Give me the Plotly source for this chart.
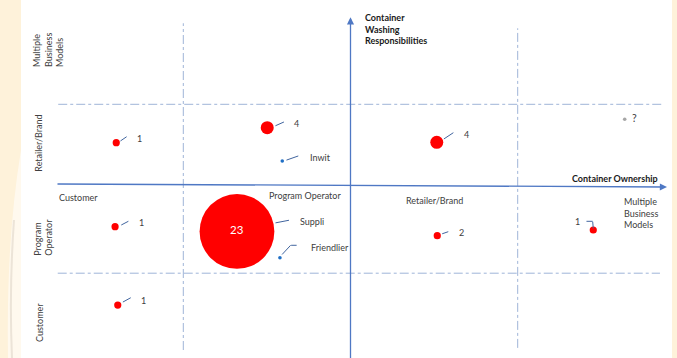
import plotly.graph_objects as go

# ---------------- data ----------------
# Axis scale: x = container ownership, y = container washing responsibility.
# Each unit is one category band: 0-1 Customer, 1-2 Program Operator,
# 2-3 Retailer/Brand, 3-4 Multiple Business Models.
ownership_labels = ["Customer", "Program Operator", "Retailer/Brand", "Multiple<br>Business<br>Models"]
washing_labels = ["Customer", "Program<br>Operator", "Retailer/Brand", "Multiple<br>Business<br>Models"]

count_x = [0.599, 1.502, 2.516, 0.592, 1.321, 2.519, 3.452, 0.608]
count_y = [2.527, 2.712, 2.532, 1.493, 1.434, 1.382, 1.452, 0.528]
count_values = [1, 4, 4, 1, 23, 2, 1, 1]

company_names = ["Inwit", "Friendlier", "?"]
company_x = [1.592, 1.578, 3.640]
company_y = [2.302, 1.111, 2.815]
company_colors = ["#1f6fc5", "#1f6fc5", "#a6a6a6"]

bubble_note = "Suppli"          # label attached to the largest bubble
ownership_dividers = [1, 3]
washing_dividers = [0.92, 3.0]
axis_origin = [2, 2]

# ---------------- layout constants ----------------
W, H = 677, 358
X_RANGE = [-0.0963, 3.9528]
Y_RANGE = [-0.1244, 4.2845]
FONT = "Lato"
FS = 9
TXT = "#404040"
LEADER = "#41659f"
AXIS = "#4f78c4"
DIV = "#9fb4d8"
CREAM = "#fef2da"

def px(x):
    return x / W

def py(y):
    return 1 - y / H

fig = go.Figure()

# bubbles with counts
fig.add_trace(go.Scatter(
    x=count_x, y=count_y, mode="markers",
    marker=dict(size=count_values, sizemode="diameter", sizeref=1 / 3.25, sizemin=3.6,
                color="#ff0000", opacity=1, line=dict(width=0)),
    hoverinfo="skip", showlegend=False))

# company dots
fig.add_trace(go.Scatter(
    x=company_x, y=company_y, mode="markers",
    marker=dict(size=3.6, color=company_colors, opacity=1, line=dict(width=0)),
    hoverinfo="skip", showlegend=False))

annotations = []
shapes = []

# white panel and faint swirl in the left margin
shapes.append(dict(type="rect", xref="paper", yref="paper", x0=px(21), x1=px(672), y0=0, y1=1,
                   fillcolor="white", line=dict(width=0), layer="below"))
shapes.append(dict(type="path", xref="paper", yref="paper", layer="below",
                   path=f"M {px(21)} {py(150)} Q {px(6)} {py(240)} {px(8)} {py(358)} "
                        f"L {px(21)} {py(358)} Z",
                   fillcolor="rgba(255,255,255,0.55)", line=dict(width=0)))
shapes.append(dict(type="path", xref="paper", yref="paper", layer="below",
                   path=f"M {px(14)} {py(220)} Q {px(9)} {py(290)} {px(12)} {py(358)}",
                   line=dict(color="rgba(200,190,175,0.35)", width=2)))

# dividers
shapes.append(dict(type="line", xref="x", yref="y", x0=ownership_dividers[0], x1=ownership_dividers[0],
                   y0=-0.026, y1=3.998, line=dict(color=DIV, width=1, dash="dashdot")))
shapes.append(dict(type="line", xref="x", yref="y", x0=ownership_dividers[1], x1=ownership_dividers[1],
                   y0=0.0, y1=3.936, line=dict(color=DIV, width=1, dash="dashdot")))
shapes.append(dict(type="line", xref="x", yref="y", x0=0.252, x1=3.875,
                   y0=washing_dividers[1], y1=washing_dividers[1], line=dict(color=DIV, width=1, dash="dashdot")))
shapes.append(dict(type="line", xref="x", yref="y", x0=0.249, x1=3.851,
                   y0=washing_dividers[0], y1=washing_dividers[0], line=dict(color=DIV, width=1, dash="dashdot")))

# main axes with arrows
annotations.append(dict(x=3.893, y=axis_origin[1] - 0.0185, ax=0.2386, ay=axis_origin[1] + 0.0185,
                        xref="x", yref="y", axref="x", ayref="y", text="", showarrow=True,
                        arrowhead=2, arrowsize=1.1, arrowwidth=1.3, arrowcolor=AXIS))
annotations.append(dict(x=axis_origin[0], y=4.071, ax=axis_origin[0], ay=-0.2,
                        xref="x", yref="y", axref="x", ayref="y", text="", showarrow=True,
                        arrowhead=2, arrowsize=1.1, arrowwidth=1.3, arrowcolor=AXIS))

# leader line geometry (pixel offsets from the dot): list of segments per point
count_leaders = [
    [((3.7, -1.4), (10.4, -6.0))],
    [((7.7, -1.7), (16.7, -5.7))],
    [((6.6, -3.0), (16.6, -9.6))],
    [((5.7, -1.4), (13.3, -5.4))],
    [((38.0, -8.5), (52.0, -11.2))],
    [((4.4, -1.7), (11.0, -4.0))],
    [((-7.3, -8.7), (-0.6, -8.7)), ((-0.6, -8.7), (0.0, -1.5))],
    [((4.6, -2.7), (13.0, -7.3))],
]
count_label_offsets = [(23, -4.4), (29.4, -3.7), (29.3, -8.3), (26.7, -4.0), (0, -1.5), (24, -3.0), (-15.6, -8.7), (25.6, -5.0)]

company_leaders = [
    [((3.7, -0.7), (16.0, -5.0))],
    [((1.7, -2.7), (10.7, -12.4)), ((10.7, -12.4), (16.7, -12.4))],
    [],
]
company_label_offsets = [(25.4, -3.7), (29.0, -10.4), (5.0, -1.5)]

def leader(x, y, seg):
    (sx, sy), (ex, ey) = seg
    return dict(x=x, y=y, xref="x", yref="y", text="", showarrow=True,
                font=dict(size=1), borderpad=0,
                xshift=ex, yshift=-ey, ax=sx - ex, ay=sy - ey,
                arrowhead=0, arrowwidth=1, arrowcolor=LEADER, standoff=0, startstandoff=0)

for i, (x, y, v) in enumerate(zip(count_x, count_y, count_values)):
    for seg in count_leaders[i]:
        annotations.append(leader(x, y, seg))
    dx, dy = count_label_offsets[i]
    big = v == max(count_values)
    annotations.append(dict(x=x, y=y, xref="x", yref="y", text=str(v), showarrow=False,
                            xshift=dx, yshift=-dy, xanchor="center", yanchor="middle",
                            font=dict(family=FONT, size=11.5 if big else FS,
                                      color="white" if big else TXT)))
    if big:
        annotations.append(dict(x=x, y=y, xref="x", yref="y", text=bubble_note, showarrow=False,
                                xshift=61.3, yshift=9.8, xanchor="left", yanchor="middle",
                                font=dict(family=FONT, size=FS, color=TXT)))

for i, (x, y, n) in enumerate(zip(company_x, company_y, company_names)):
    for seg in company_leaders[i]:
        annotations.append(leader(x, y, seg))
    dx, dy = company_label_offsets[i]
    annotations.append(dict(x=x, y=y, xref="x", yref="y", text=n, showarrow=False,
                            xshift=dx, yshift=-dy, xanchor="left", yanchor="middle",
                            font=dict(family=FONT, size=10.5 if n == "?" else FS, color=TXT)))

# ownership category labels (below horizontal axis)
own_pos = [(57.3, 197.7, "left"), (304.7, 195.7, "center"), (434.2, 200.7, "center"), (621.7, 213.3, "left")]
for lab, (x, y, anc) in zip(ownership_labels, own_pos):
    annotations.append(dict(x=px(x), y=py(y), xref="paper", yref="paper", text=lab, showarrow=False,
                            xanchor=anc, yanchor="middle", align="left",
                            font=dict(family=FONT, size=FS, color=TXT)))

# washing category labels (rotated, left side)
wash_pos = [(39, 323), (42.7, 237), (37.7, 143), (48, 50)]
for lab, (x, y) in zip(washing_labels, wash_pos):
    annotations.append(dict(x=px(x), y=py(y), xref="paper", yref="paper", text=lab, showarrow=False,
                            textangle=-90, xanchor="center", yanchor="middle", align="left",
                            font=dict(family=FONT, size=FS, color=TXT)))

# axis titles
annotations.append(dict(x=px(362.7), y=py(28.5), xref="paper", yref="paper",
                        text="<b>Container<br>Washing<br>Responsibilities</b>", showarrow=False,
                        xanchor="left", yanchor="middle", align="left",
                        font=dict(family=FONT, size=9, color="#1a1a1a")))
annotations.append(dict(x=px(660), y=py(178.3), xref="paper", yref="paper",
                        text="<b>Container Ownership</b>", showarrow=False,
                        xanchor="right", yanchor="middle",
                        font=dict(family=FONT, size=9, color="#1a1a1a")))

fig.update_layout(
    width=W, height=H, margin=dict(l=0, r=0, t=0, b=0),
    paper_bgcolor=CREAM, plot_bgcolor="rgba(0,0,0,0)",
    xaxis=dict(range=X_RANGE, visible=False, fixedrange=True),
    yaxis=dict(range=Y_RANGE, visible=False, fixedrange=True),
    shapes=shapes, annotations=annotations, showlegend=False,
    font=dict(family=FONT, color=TXT),
)

fig.write_html("out.html", config={"displayModeBar": False},
               post_script="document.body.style.margin='0';document.body.style.overflow='hidden';")
